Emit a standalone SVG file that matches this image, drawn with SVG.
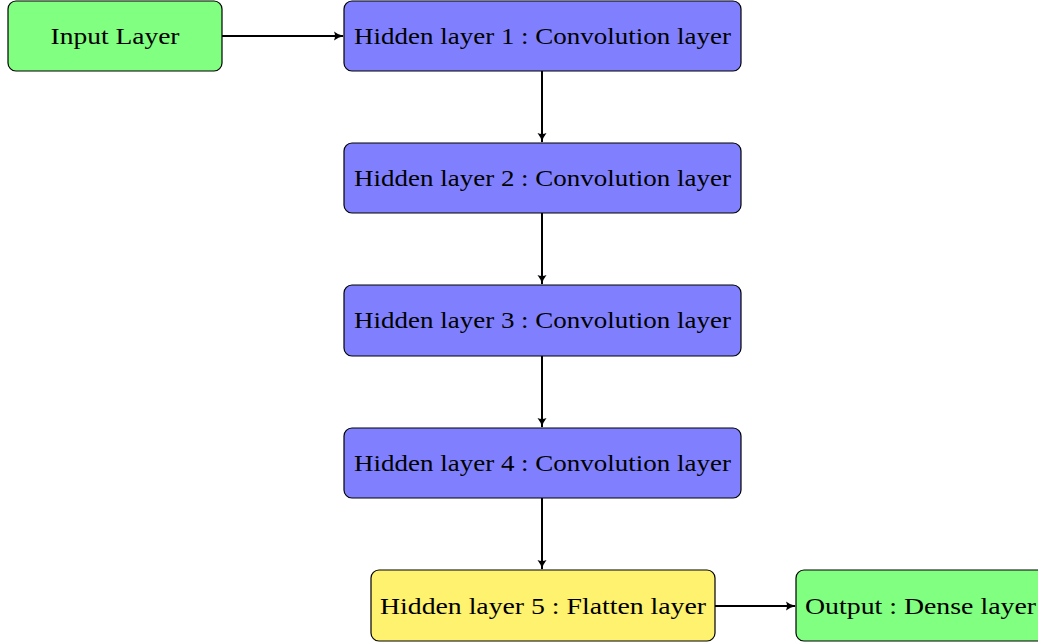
<svg xmlns="http://www.w3.org/2000/svg" width="1038" height="643" viewBox="0 0 1038 643">
<style>
.node rect{stroke:#000;stroke-width:1.2}
.green{fill:#80ff80}
.blue{fill:#8080ff}
.yellow{fill:#fff26e}
text{font-family:"Liberation Serif","DejaVu Serif",serif;font-size:24px;fill:#000;text-anchor:middle}
.conn line{stroke:#000;stroke-width:2;fill:none}
</style>
<defs>
<marker id="ah" viewBox="0 0 10 10" refX="9" refY="5" markerWidth="10" markerHeight="10" markerUnits="userSpaceOnUse" orient="auto">
<path d="M0,0.5 Q4,4 10,5 Q4,6 0,9.5 Q2,5 0,0.5 Z" fill="#000"/>
</marker>
</defs>
<rect width="1038" height="643" fill="#fff"/>
<g class="conn">
<line x1="222" y1="36" x2="343" y2="36" marker-end="url(#ah)"/>
<line x1="542" y1="71" x2="542" y2="142" marker-end="url(#ah)"/>
<line x1="542" y1="213" x2="542" y2="284" marker-end="url(#ah)"/>
<line x1="542" y1="356" x2="542" y2="427" marker-end="url(#ah)"/>
<line x1="542" y1="498" x2="542" y2="569" marker-end="url(#ah)"/>
<line x1="715" y1="606" x2="795" y2="606" marker-end="url(#ah)"/>
</g>
<g id="input" class="node"><rect class="green" x="8" y="1" width="214" height="70" rx="8"/><text x="115" y="44" textLength="129" lengthAdjust="spacingAndGlyphs">Input Layer</text></g>
<g id="h1" class="node"><rect class="blue" x="344" y="1" width="397" height="70" rx="8"/><text x="542.5" y="44" textLength="377" lengthAdjust="spacingAndGlyphs">Hidden layer 1 : Convolution layer</text></g>
<g id="h2" class="node"><rect class="blue" x="344" y="143" width="397" height="70" rx="8"/><text x="542.5" y="186" textLength="377" lengthAdjust="spacingAndGlyphs">Hidden layer 2 : Convolution layer</text></g>
<g id="h3" class="node"><rect class="blue" x="344" y="285" width="397" height="71" rx="8"/><text x="542.5" y="328" textLength="377" lengthAdjust="spacingAndGlyphs">Hidden layer 3 : Convolution layer</text></g>
<g id="h4" class="node"><rect class="blue" x="344" y="428" width="397" height="70" rx="8"/><text x="542.5" y="471" textLength="377" lengthAdjust="spacingAndGlyphs">Hidden layer 4 : Convolution layer</text></g>
<g id="h5" class="node"><rect class="yellow" x="371" y="570" width="344" height="71" rx="8"/><text x="543" y="614" textLength="326" lengthAdjust="spacingAndGlyphs">Hidden layer 5 : Flatten layer</text></g>
<g id="output" class="node"><rect class="green" x="796" y="570" width="260" height="71" rx="8"/><text x="920.5" y="614" textLength="231" lengthAdjust="spacingAndGlyphs">Output : Dense layer</text></g>
</svg>
